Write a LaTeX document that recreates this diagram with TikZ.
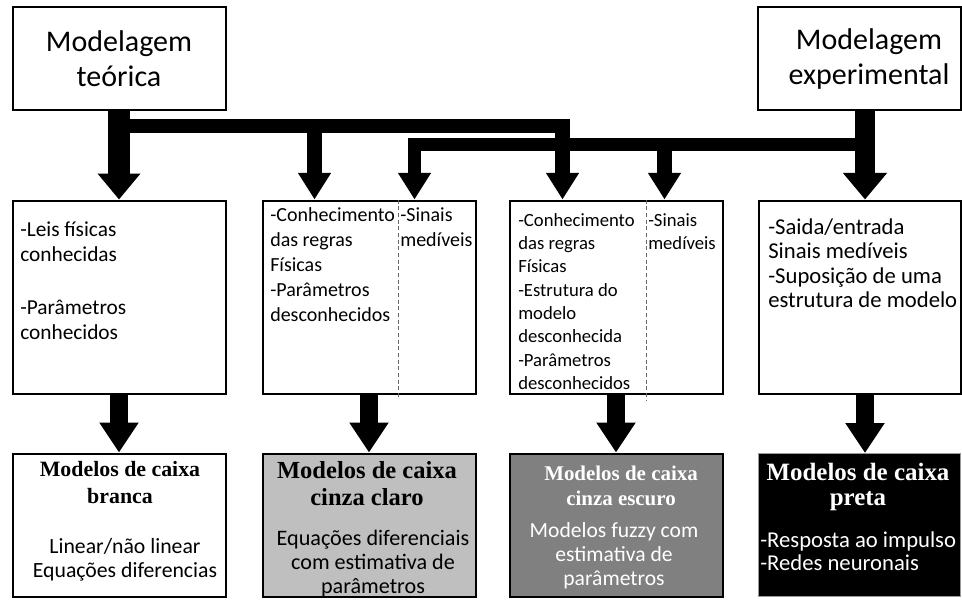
\documentclass[tikz,border=0pt]{standalone}
\usepackage{fontspec}
\setmainfont{Carlito}
\newfontfamily\garafont{Liberation Serif}
\usetikzlibrary{arrows.meta,positioning}

\begin{document}
\begin{tikzpicture}[x=0.75pt,y=-0.75pt,line join=miter]
        \tikzstyle{topbox}=[rectangle,draw,line width=1.5pt,minimum width=159.75pt,minimum height=77.25pt,align=center,font=\fontsize{22.5}{26}\selectfont]
        \tikzstyle{infobox}=[rectangle,draw,line width=1.5pt,minimum width=159.75pt,minimum height=144.75pt]
        \tikzstyle{classbox}=[rectangle,draw,line width=1.5pt,minimum width=159.75pt,minimum height=107.25pt]
        \tikzstyle{txt}=[anchor=north west,inner sep=0pt,align=left]
        \tikzstyle{ttl}=[anchor=north,inner sep=0pt,align=center]
        \tikzstyle{fat}=[line width=16.5pt,-{Triangle[width=31pt,length=19.5pt]}]
        \tikzstyle{fatx}=[line width=15pt,-{Triangle[width=32pt,length=20pt]}]
        \tikzstyle{drop}=[line width=11pt,-{Triangle[width=23.5pt,length=20pt]}]
        \tikzstyle{down}=[line width=14pt,-{Triangle[width=28pt,length=22.5pt]}]
        \tikzstyle{sep}=[densely dashed,draw=black!60,line width=0.6pt]

        \useasboundingbox (0,0) rectangle (962,599);

        % modelagem
        \node [topbox] (teo) at (119,59) {Modelagem\\teórica};
        \node [topbox,minimum width=152.25pt] (exp) at (859,59) {};
        \node [align=center,inner sep=0pt,font=\fontsize{22.5}{26}\selectfont] (expt) at (869,59) {Modelagem\\experimental};

        % conhecimento
        \node [infobox] (r1) at (119,297) {};
        \node [infobox] (r2) at (369,297) {};
        \node [infobox] (r3) at (616,297) {};
        \node [infobox,minimum width=151.5pt] (r4) at (859.5,297) {};

        % tipos de modelo
        \node [classbox] (c1) at (119,525) {};
        \node [classbox,fill=black!25] (c2) at (369,525) {};
        \node [classbox,fill=black!50] (c3) at (616,525) {};
        \node [classbox,fill=black,draw=black!40,line width=0.75pt,minimum width=151.5pt] (c4) at (859.5,525) {};

        % barramentos
        \coordinate (tb1) at (119,126);
        \coordinate (tb2) at (314.5,126);
        \coordinate (tb3) at (562.5,126);
        \coordinate (eb1) at (865,144.5);
        \coordinate (eb2) at (414.5,144.5);
        \coordinate (eb3) at (664.5,144.5);
        \draw [fat] (teo) -- (r1);
        \draw [drop] (tb1) -- (tb3) -- (tb3 |- r3.north);
        \draw [drop] (tb2) -- (tb2 |- r2.north);
        \draw [fatx] (exp.south -| eb1) -- (eb1 |- r4.north);
        \draw [drop,line width=10pt] (eb1) -- (eb2) -- (eb2 |- r2.north);
        \draw [drop] (eb3) -- (eb3 |- r3.north);

        \draw [down] (r1) -- (c1);
        \draw [down] (r2) -- (c2);
        \draw [down] (r3) -- (c3);
        \draw [down] (r4.south -| eb1) -- (eb1 |- c4.north);

        \coordinate (dv2) at (398,397);
        \coordinate (dv3) at (646,400);
        \draw [sep] (dv2 |- r2.north) -- (dv2);
        \draw [sep] (dv3 |- r3.north) -- (dv3);

        \node [txt,font=\fontsize{16}{18.75}\selectfont] (t1) at (20,222) {-Leis físicas\\conhecidas\\[21pt]-Parâmetros\\conhecidos};
        \node [txt,font=\fontsize{15}{18.75}\selectfont] (t2) at (270,207) {-Conhecimento\\das regras\\Físicas\\-Parâmetros\\desconhecidos};
        \node [txt,font=\fontsize{15}{18.75}\selectfont] (s2) at (400,207) {-Sinais\\medíveis};
        \node [txt,font=\fontsize{14}{17.5}\selectfont] (t3) at (518,213) {-Conhecimento\\das regras\\Físicas\\-Estrutura do\\modelo\\desconhecida\\-Parâmetros\\desconhecidos};
        \node [txt,font=\fontsize{14}{17.5}\selectfont] (s3) at (648,213) {-Sinais\\medíveis};
        \node [txt,font=\fontsize{17}{18.4}\selectfont] (t4) at (768,218) {-Saida/entrada\\Sinais medíveis\\-Suposição de uma\\estrutura de modelo};

        \node [ttl,font=\garafont\bfseries\fontsize{16.4}{20.25}\selectfont] (h1) at (120,461) {Modelos de caixa\\branca};
        \node [ttl,font=\garafont\bfseries\fontsize{18.4}{20.25}\selectfont] (h2) at (367,461) {Modelos de caixa\\cinza claro};
        \node [ttl,font=\garafont\bfseries\fontsize{15.7}{18.75}\selectfont,text=white] (h3) at (621,466) {Modelos de caixa\\cinza escuro};
        \node [ttl,font=\garafont\bfseries\fontsize{18.7}{18.75}\selectfont,text=white] (h4) at (858,463) {Modelos de caixa\\preta};

        \node [ttl,font=\fontsize{16.3}{18}\selectfont] (b1) at (125,538) {Linear/não linear\\Equações diferencias};
        \node [ttl,font=\fontsize{16.6}{18}\selectfont] (b2) at (373,530) {Equações diferenciais\\com estimativa de\\parâmetros};
        \node [ttl,font=\fontsize{16.2}{18}\selectfont,text=white] (b3) at (614,522) {Modelos fuzzy com\\estimativa de\\parâmetros};
        \node [txt,font=\fontsize{17}{17.25}\selectfont,text=white] (b4) at (760,531) {-Resposta ao impulso\\-Redes neuronais};
\end{tikzpicture}
\end{document}
